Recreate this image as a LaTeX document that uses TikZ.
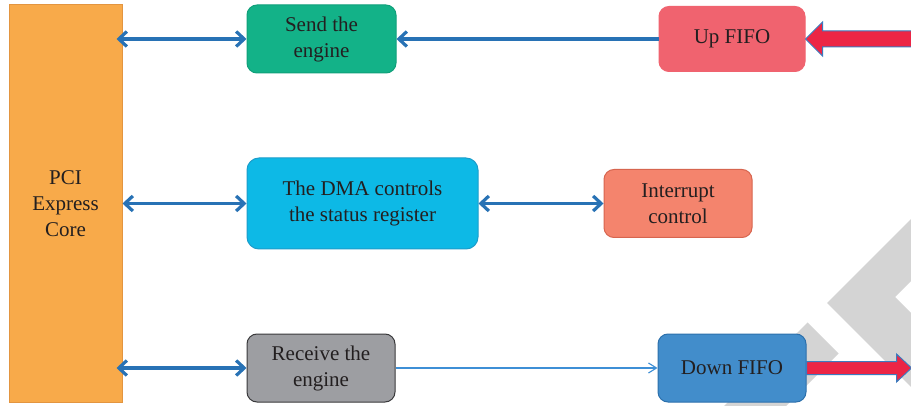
\documentclass[tikz,border=0pt]{standalone}
\usepackage{fontspec}
\setmainfont{Liberation Serif}
\usetikzlibrary{arrows.meta,calc}
\definecolor{pcicol}{HTML}{F8AA4A}
\definecolor{pciedge}{HTML}{E39540}
\definecolor{sendcol}{HTML}{13B288}
\definecolor{sendedge}{HTML}{10A07A}
\definecolor{upcol}{HTML}{F0636F}
\definecolor{dmacol}{HTML}{0DB9E6}
\definecolor{dmaedge}{HTML}{1C9DCB}
\definecolor{intcol}{HTML}{F4846D}
\definecolor{intedge}{HTML}{D7654F}
\definecolor{reccol}{HTML}{9D9EA2}
\definecolor{recedge}{HTML}{3A3A3C}
\definecolor{downcol}{HTML}{428DCB}
\definecolor{downedge}{HTML}{2C70AC}
\definecolor{linkcol}{HTML}{2872B5}
\definecolor{thincol}{HTML}{3E8FD6}
\definecolor{redcol}{HTML}{EC2545}
\definecolor{rededge}{HTML}{3C7BBF}
\definecolor{txtcol}{HTML}{231F20}
\definecolor{markgray}{HTML}{D4D4D4}
\tikzset{
  box/.style={rounded corners=10pt, line width=1pt, align=center, inner sep=0pt,
    text=txtcol, font=\fontsize{21}{26}\selectfont},
  link/.style={draw=linkcol, line width=3.2pt,
    {Straight Barb[length=8pt,width=15pt]}-{Straight Barb[length=8pt,width=15pt]}},
  onelink/.style={draw=linkcol, line width=3.2pt, -{Straight Barb[length=8pt,width=15pt]}},
  thinlink/.style={draw=thincol, line width=1.1pt, -{Straight Barb[length=8pt,width=10pt]}},
  bigarrow/.style={fill=redcol, draw=rededge, line width=1pt, line join=miter},
  markband/.style={fill=markgray, draw=none}
}
\begin{document}
\begin{tikzpicture}[x=1pt,y=-1pt]
\useasboundingbox (0,0) rectangle (911,406);
\clip (0,0) rectangle (911,406);
\fill[white] (0,0) rectangle (911,406);
% watermark chevrons
\fill[markband] (827,303) -- (1027,103) -- (1089,103) -- (895,297) -- (1015,417) -- (941,417) -- cycle;
\fill[markband] (807.5,322.5) -- (838.5,353.5) -- (772,420) -- (710,420) -- cycle;
% nodes
\node[box, rounded corners=0pt, fill=pcicol, draw=pciedge, minimum width=113pt, minimum height=397pt] (pci) at (65.5,203.5) {PCI\\Express\\Core};
\node[box, fill=sendcol, draw=sendedge, minimum width=149pt, minimum height=68pt] (send) at (321.5,39) {Send the\\engine};
\node[box, fill=upcol, draw=upcol, minimum width=146pt, minimum height=65pt] (up) at (732,39) {Up FIFO};
\node[box, rounded corners=12pt, fill=dmacol, draw=dmaedge, minimum width=231pt, minimum height=91pt] (dma) at (362.5,203.5) {The DMA controls\\the status register};
\node[box, fill=intcol, draw=intedge, minimum width=148pt, minimum height=68pt] (int) at (678,203.5) {Interrupt\\control};
\node[box, fill=reccol, draw=recedge, minimum width=148pt, minimum height=68pt] (rec) at (321,368) {Receive the\\engine};
\node[box, fill=downcol, draw=downedge, minimum width=148pt, minimum height=68pt] (down) at (732,368) {Down FIFO};
% connectors
\draw[link] ([xshift=-6pt]send.west -| pci.east) -- (send.west);
\draw[onelink] (up.west) -- (send.east);
\draw[link] (dma.west -| pci.east) -- (dma.west);
\draw[link] (dma.east) -- (int.west);
\draw[link] ([xshift=-6pt]rec.west -| pci.east) -- (rec.west);
\draw[thinlink] (rec.east) -- (down.west);
% big red arrows
\draw[bigarrow] (up.east) -- ++(17,-17) -- ++(0,9) -- ++(100,0) -- ++(0,16) -- ++(-100,0) -- ++(0,9) -- cycle;
\draw[bigarrow] ($(down.east)+(0,-6.5)$) -- ++(90,0) -- ++(0,-7.5) -- ++(15,14) -- ++(-15,14) -- ++(0,-7.5) -- ++(-90,0) -- cycle;
\end{tikzpicture}
\end{document}
